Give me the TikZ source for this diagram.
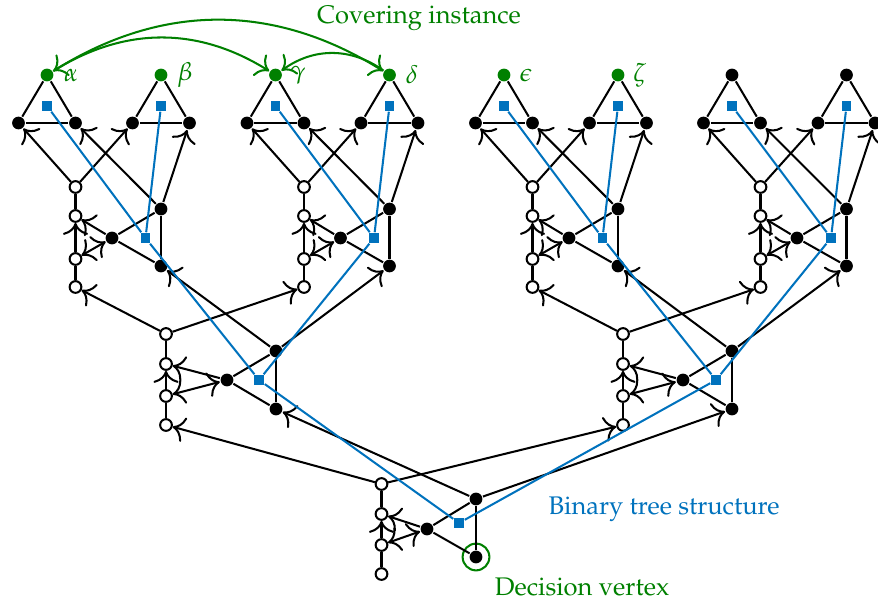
\documentclass[tikz,border=0pt]{standalone}
\usepackage[T1]{fontenc}
\usepackage{mathpazo}
\usepackage{tikz}
\usetikzlibrary{arrows.meta}

\definecolor{covgreen}{RGB}{0,128,0}
\definecolor{treeblue}{RGB}{0,114,189}

\begin{document}
\begin{tikzpicture}[
	x=0.0138cm, y=-0.0138cm,
	>={To[scale=1.4]},
	thick,
	bv/.style={circle,fill=black,inner sep=0pt,minimum size=5pt},
	gv/.style={bv,fill=covgreen},
	wv/.style={circle,draw=black,fill=white,thick,inner sep=0pt,minimum size=4.6pt},
	sq/.style={rectangle,fill=treeblue,inner sep=0pt,minimum size=3.7pt},
	tr/.style={treeblue,thick},
	cv/.style={covgreen,thick}
]
\useasboundingbox (0,0) rectangle (878,601);

% triangles on top
\node[gv] (t1a) at (47,75) {};    \node[bv] (t1l) at (18.5,123) {};  \node[bv] (t1r) at (75.5,123) {};  \node[sq] (t1q) at (47,106) {};
\node[gv] (t2a) at (161,75) {};   \node[bv] (t2l) at (132.5,123) {}; \node[bv] (t2r) at (189.5,123) {}; \node[sq] (t2q) at (161,106) {};
\node[gv] (t3a) at (275.5,75) {}; \node[bv] (t3l) at (247,123) {};   \node[bv] (t3r) at (304,123) {};   \node[sq] (t3q) at (275.5,106) {};
\node[gv] (t4a) at (389.5,75) {}; \node[bv] (t4l) at (361,123) {};   \node[bv] (t4r) at (418,123) {};   \node[sq] (t4q) at (389.5,106) {};
\node[gv] (t5a) at (504,75) {};   \node[bv] (t5l) at (475.5,123) {}; \node[bv] (t5r) at (532.5,123) {}; \node[sq] (t5q) at (504,106) {};
\node[gv] (t6a) at (618,75) {};   \node[bv] (t6l) at (589.5,123) {}; \node[bv] (t6r) at (646.5,123) {}; \node[sq] (t6q) at (618,106) {};
\node[bv] (t7a) at (732,75) {};   \node[bv] (t7l) at (703.5,123) {}; \node[bv] (t7r) at (760.5,123) {}; \node[sq] (t7q) at (732,106) {};
\node[bv] (t8a) at (846.5,75) {}; \node[bv] (t8l) at (818,123) {};   \node[bv] (t8r) at (875,123) {};   \node[sq] (t8q) at (846.5,106) {};

% second row of gadgets
\node[wv] (LLw1) at (75.5,187) {}; \node[wv] (LLw2) at (75.5,216) {}; \node[wv] (LLw3) at (75.5,259) {}; \node[wv] (LLw4) at (75.5,287) {};
\node[bv] (LLm) at (112,238) {}; \node[bv] (LLt) at (161,209) {}; \node[bv] (LLb) at (161,266) {}; \node[sq] (LLq) at (145.5,238) {};
\node[wv] (LRw1) at (304,187) {}; \node[wv] (LRw2) at (304,216) {}; \node[wv] (LRw3) at (304,259) {}; \node[wv] (LRw4) at (304,287) {};
\node[bv] (LRm) at (340.5,238) {}; \node[bv] (LRt) at (389.5,209) {}; \node[bv] (LRb) at (389.5,266) {}; \node[sq] (LRq) at (374,238) {};
\node[wv] (RLw1) at (532.5,187) {}; \node[wv] (RLw2) at (532.5,216) {}; \node[wv] (RLw3) at (532.5,259) {}; \node[wv] (RLw4) at (532.5,287) {};
\node[bv] (RLm) at (569,238) {}; \node[bv] (RLt) at (618,209) {}; \node[bv] (RLb) at (618,266) {}; \node[sq] (RLq) at (602.5,238) {};
\node[wv] (RRw1) at (760.5,187) {}; \node[wv] (RRw2) at (760.5,216) {}; \node[wv] (RRw3) at (760.5,259) {}; \node[wv] (RRw4) at (760.5,287) {};
\node[bv] (RRm) at (797,238) {}; \node[bv] (RRt) at (846.5,209) {}; \node[bv] (RRb) at (846.5,266) {}; \node[sq] (RRq) at (831,238) {};

% third row
\node[wv] (Lw1) at (166,334) {}; \node[wv] (Lw2) at (166,364) {}; \node[wv] (Lw3) at (166,396) {}; \node[wv] (Lw4) at (166,425) {};
\node[bv] (Lm) at (227,380) {}; \node[bv] (Lt) at (276,351) {}; \node[bv] (Lb) at (276,409) {}; \node[sq] (Lq) at (259,380) {};
\node[wv] (Rw1) at (623,334) {}; \node[wv] (Rw2) at (623,364) {}; \node[wv] (Rw3) at (623,396) {}; \node[wv] (Rw4) at (623,425) {};
\node[bv] (Rm) at (683,380) {}; \node[bv] (Rt) at (732,351) {}; \node[bv] (Rb) at (732,409) {}; \node[sq] (Rq) at (716,380) {};

% root
\node[wv] (rw1) at (381.5,484) {}; \node[wv] (rw2) at (381.5,514) {}; \node[wv] (rw3) at (381.5,545) {}; \node[wv] (rw4) at (381.5,574) {};
\node[bv] (rm) at (427,529) {}; \node[bv] (rt) at (476,499) {}; \node[bv] (rb) at (476,557) {}; \node[sq] (rq) at (459,523) {};
\node[draw=covgreen,thick,circle,minimum size=10.5pt] (dec) at (rb) {};

% triangle edges
\path (t1a) edge (t1l) edge (t1r) (t1l) edge (t1r)
	(t2a) edge (t2l) edge (t2r) (t2l) edge (t2r)
	(t3a) edge (t3l) edge (t3r) (t3l) edge (t3r)
	(t4a) edge (t4l) edge (t4r) (t4l) edge (t4r)
	(t5a) edge (t5l) edge (t5r) (t5l) edge (t5r)
	(t6a) edge (t6l) edge (t6r) (t6l) edge (t6r)
	(t7a) edge (t7l) edge (t7r) (t7l) edge (t7r)
	(t8a) edge (t8l) edge (t8r) (t8l) edge (t8r);

% gadget edges
\path (LLw1) edge (LLw2) (LLw3) edge[->] (LLw2) edge (LLw4)
	(LLm) edge[->] (LLw2) edge[<->] (LLw3) edge (LLt) edge (LLb) (LLt) edge (LLb)
	(LLw1) edge[->] (t1l) edge[->] (t2l) (LLt) edge[->] (t1r) edge[->] (t2r);
\path (LRw1) edge (LRw2) (LRw3) edge[->] (LRw2) edge (LRw4)
	(LRm) edge[->] (LRw2) edge[<->] (LRw3) edge (LRt) edge (LRb) (LRt) edge (LRb)
	(LRw1) edge[->] (t3l) edge[->] (t4l) (LRt) edge[->] (t3r) edge[->] (t4r);
\path (RLw1) edge (RLw2) (RLw3) edge[->] (RLw2) edge (RLw4)
	(RLm) edge[->] (RLw2) edge[<->] (RLw3) edge (RLt) edge (RLb) (RLt) edge (RLb)
	(RLw1) edge[->] (t5l) edge[->] (t6l) (RLt) edge[->] (t5r) edge[->] (t6r);
\path (RRw1) edge (RRw2) (RRw3) edge[->] (RRw2) edge (RRw4)
	(RRm) edge[->] (RRw2) edge[<->] (RRw3) edge (RRt) edge (RRb) (RRt) edge (RRb)
	(RRw1) edge[->] (t7l) edge[->] (t8l) (RRt) edge[->] (t7r) edge[->] (t8r);
\path (Lw1) edge (Lw2) (Lw3) edge[->] (Lw2) edge (Lw4)
	(Lm) edge[->] (Lw2) edge[<->] (Lw3) edge (Lt) edge (Lb) (Lt) edge (Lb)
	(Lw1) edge[->] (LLw4) edge[->] (LRw4) (Lt) edge[->] (LLb) edge[->] (LRb);
\path (Rw1) edge (Rw2) (Rw3) edge[->] (Rw2) edge (Rw4)
	(Rm) edge[->] (Rw2) edge[<->] (Rw3) edge (Rt) edge (Rb) (Rt) edge (Rb)
	(Rw1) edge[->] (RLw4) edge[->] (RRw4) (Rt) edge[->] (RLb) edge[->] (RRb);
\path (rw1) edge (rw2) (rw3) edge[->] (rw2) edge (rw4)
	(rm) edge[->] (rw2) edge[<->] (rw3) edge (rt) edge (rb) (rt) edge (rb)
	(rw1) edge[->] (Lw4) edge[->] (Rw4) (rt) edge[->] (Lb) edge[->] (Rb);

% binary tree
\path[tr] (rq) edge (Lq) edge (Rq)
	(Lq) edge (LLq) edge (LRq) (Rq) edge (RLq) edge (RRq)
	(LLq) edge (t1q) edge (t2q) (LRq) edge (t3q) edge (t4q)
	(RLq) edge (t5q) edge (t6q) (RRq) edge (t7q) edge (t8q);

% covering instance
\draw[cv,<->] (t1a) to[bend left=32] (t4a);
\draw[cv,->] (t1a) to[bend left=32] (t3a);
\draw[cv,->] (t4a) to[bend right=36] (t3a);

\tikzstyle{every node}=[covgreen]
\node (la) at (71,75) {$\alpha$};
\node (lb) at (185,75) {$\beta$};
\node (lc) at (298,75) {$\gamma$};
\node (ld) at (412,75) {$\delta$};
\node (le) at (526,75) {$\epsilon$};
\node (lz) at (640,75) {$\zeta$};
\node (cov) at (419,18) {Covering instance};
\node (dlab) at (582,587) {Decision vertex};
\node[treeblue] (blab) at (664,509) {Binary tree structure};
\end{tikzpicture}
\end{document}
